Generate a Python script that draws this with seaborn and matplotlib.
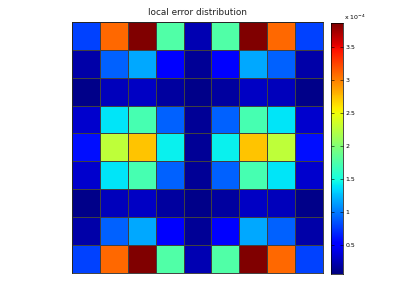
import numpy as np
import matplotlib
matplotlib.use("Agg")
import matplotlib.pyplot as plt
import seaborn as sns

# local error values, in units of 1e-4 (rows top to bottom)
row_edge = [0.79, 3.11, 3.87, 1.76, 0.23, 1.76, 3.87, 3.11, 0.79]
row_b = [0.20, 0.91, 1.17, 0.50, 0.14, 0.50, 1.17, 0.91, 0.20]
row_c = [0.10, 0.27, 0.29, 0.18, 0.10, 0.18, 0.29, 0.27, 0.10]
row_d = [0.33, 1.40, 1.72, 0.91, 0.14, 0.91, 1.72, 1.40, 0.33]
row_mid = [0.60, 2.27, 2.73, 1.44, 0.14, 1.44, 2.73, 2.27, 0.60]

error_grid = np.array([row_edge, row_b, row_c, row_d, row_mid,
                       row_d, row_c, row_b, row_edge])

cbar_ticks = [0.5, 1, 1.5, 2, 2.5, 3, 3.5]
cbar_labels = ["0.5", "1", "1.5", "2", "2.5", "3", "3.5"]

fig = plt.figure(figsize=(4.09, 3.06), dpi=100)
ax = fig.add_axes([0.176, 0.109, 0.614, 0.819])
cax = fig.add_axes([0.809, 0.105, 0.030, 0.820])

sns.heatmap(
    error_grid,
    ax=ax,
    cbar_ax=cax,
    cmap="jet",
    vmin=0.065,
    vmax=3.87,
    linewidths=0.6,
    linecolor="#404040",
    xticklabels=False,
    yticklabels=False,
)

for side in ["top", "bottom", "left", "right"]:
    ax.spines[side].set_visible(True)
    ax.spines[side].set_color("#222222")
    ax.spines[side].set_linewidth(0.6)

ax.set_title("local error distribution", fontsize=6.4, pad=5, color="#222222")

cax.set_yticks(cbar_ticks)
cax.set_yticklabels(cbar_labels)
cax.tick_params(axis="y", labelsize=4.5, length=2, width=0.4, direction="in",
                left=True, right=True, pad=1.5)
for side in ["top", "bottom", "left", "right"]:
    cax.spines[side].set_visible(True)
    cax.spines[side].set_linewidth(0.5)
cax.text(1.1, 1.005, r"x 10$^{-4}$", transform=cax.transAxes,
         fontsize=4.5, ha="left", va="bottom")

fig.savefig("out.png", dpi=100)
